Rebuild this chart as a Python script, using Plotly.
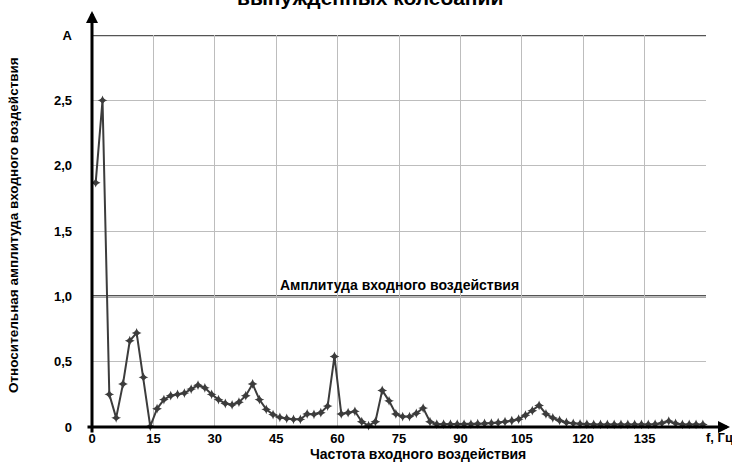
import plotly.graph_objects as go

# Frequencies (Hz) of measured points
freq = [0.9, 2.57, 4.23, 5.9, 7.57, 9.23, 10.9, 12.57, 14.23, 15.9,
        17.57, 19.23, 20.9, 22.57, 24.23, 25.9, 27.57, 29.23, 30.9, 32.57,
        34.23, 35.9, 37.57, 39.23, 40.9, 42.57, 44.23, 45.9, 47.57, 49.23,
        50.9, 52.57, 54.23, 55.9, 57.57, 59.23, 60.9, 62.57, 64.23, 65.9,
        67.57, 69.23, 70.9, 72.57, 74.23, 75.9, 77.57, 79.23, 80.9, 82.57,
        84.23, 85.9, 87.57, 89.23, 90.9, 92.57, 94.23, 95.9, 97.57, 99.23,
        100.9, 102.57, 104.23, 105.9, 107.57, 109.23, 110.9, 112.57, 114.23, 115.9,
        117.57, 119.23, 120.9, 122.57, 124.23, 125.9, 127.57, 129.23, 130.9, 132.57,
        134.23, 135.9, 137.57, 139.23, 140.9, 142.57, 144.23, 145.9, 147.57, 149.23]

# Relative amplitude
amp = [1.87, 2.50, 0.25, 0.07, 0.33, 0.66, 0.72, 0.38, 0.005, 0.14,
       0.21, 0.24, 0.25, 0.26, 0.29, 0.32, 0.30, 0.25, 0.21, 0.18,
       0.17, 0.19, 0.24, 0.33, 0.21, 0.135, 0.095, 0.074, 0.065, 0.059,
       0.059, 0.10, 0.097, 0.11, 0.16, 0.54, 0.10, 0.11, 0.12, 0.04,
       0.01, 0.04, 0.28, 0.20, 0.10, 0.08, 0.08, 0.105, 0.145, 0.04,
       0.022, 0.022, 0.022, 0.022, 0.022, 0.022, 0.025, 0.027, 0.03, 0.033,
       0.04, 0.048, 0.06, 0.09, 0.125, 0.165, 0.10, 0.07, 0.05, 0.035,
       0.028, 0.024, 0.022, 0.02, 0.02, 0.02, 0.02, 0.02, 0.02, 0.02,
       0.02, 0.02, 0.022, 0.03, 0.045, 0.028, 0.02, 0.02, 0.02, 0.02]

x_ticks = [0, 15, 30, 45, 60, 75, 90, 105, 120, 135, 150]
x_tick_text = ["0", "15", "30", "45", "60", "75", "90", "105", "120", "135", ""]
y_ticks = [0, 0.5, 1.0, 1.5, 2.0, 2.5, 3.0]
y_tick_text = ["0", "0,5", "1,0", "1,5", "2,0", "2,5", "A"]

FONT = "Liberation Sans, Arial, sans-serif"

fig = go.Figure()
fig.add_trace(go.Scatter(
    x=freq, y=amp, mode="lines+markers",
    line=dict(color="#3c3c3c", width=2),
    marker=dict(symbol="star-diamond", size=7, color="#3c3c3c"),
    cliponaxis=False, showlegend=False, hoverinfo="skip",
))

W, H = 732, 462
L, R, T, B = 92, 26, 35, 35
pw, ph = W - L - R, H - T - B

def px_to_paper_x(px):
    return (px - L) / pw

def px_to_paper_y(py):
    return (H - B - py) / ph

fig.update_layout(
    width=W, height=H,
    margin=dict(l=L, r=R, t=T, b=B, pad=0),
    paper_bgcolor="white", plot_bgcolor="white",
    font=dict(family=FONT, size=13, color="black"),
    xaxis=dict(range=[0, 150], tickvals=x_ticks, ticktext=x_tick_text,
               showgrid=True, gridcolor="#bdbdbd", gridwidth=1,
               zeroline=False, showline=False, ticks="",
               tickfont=dict(family=FONT, size=13, color="black", weight="bold"),
               ticklabelstandoff=2, fixedrange=True),
    yaxis=dict(range=[0, 3], tickvals=y_ticks, ticktext=y_tick_text,
               showgrid=True, gridcolor="#bdbdbd", gridwidth=1,
               zeroline=False, showline=False, ticks="",
               tickfont=dict(family=FONT, size=13, color="black", weight="bold"),
               ticklabelstandoff=19, fixedrange=True),
)

shapes = []
# dark reference lines at 1.0 and at A
for yv in (1.0, 3.0):
    shapes.append(dict(type="line", xref="x", yref="y", x0=0, x1=150, y0=yv, y1=yv,
                       line=dict(color="#555555", width=2.5), layer="below"))
fig.update_layout(shapes=shapes)

annotations = [
    # y axis arrow
    dict(xref="paper", yref="paper", x=0, y=px_to_paper_y(11), ax=0, ay=423,
         axref="pixel", ayref="pixel", text="", showarrow=True,
         arrowhead=2, arrowsize=0.8, arrowwidth=3, arrowcolor="black"),
    # x axis arrow
    dict(xref="paper", yref="paper", x=px_to_paper_x(730), y=0, ax=-644, ay=0,
         axref="pixel", ayref="pixel", text="", showarrow=True,
         arrowhead=2, arrowsize=0.8, arrowwidth=3, arrowcolor="black"),
    dict(xref="paper", yref="paper", x=px_to_paper_x(704), y=px_to_paper_y(437),
         text="<b>f, Гц</b>", showarrow=False, xanchor="left", yanchor="middle",
         font=dict(size=13, color="black")),
    dict(xref="paper", yref="paper", x=px_to_paper_x(418), y=px_to_paper_y(454),
         text="<b>Частота входного воздействия</b>", showarrow=False,
         xanchor="center", yanchor="middle", font=dict(size=14, color="black")),
    dict(xref="paper", yref="paper", x=px_to_paper_x(13), y=px_to_paper_y(225),
         text="<b>Относительная амплитуда входного воздействия</b>", showarrow=False,
         textangle=-90, xanchor="center", yanchor="middle",
         font=dict(size=13.5, color="black")),
    dict(xref="x", yref="paper", x=75, y=px_to_paper_y(285),
         text="<b>Амплитуда входного воздействия</b>", showarrow=False,
         xanchor="center", yanchor="middle", font=dict(size=14, color="black")),
    dict(xref="paper", yref="paper", x=px_to_paper_x(370), y=px_to_paper_y(-3),
         text="<b>вынужденных колебаний</b>", showarrow=False,
         xanchor="center", yanchor="middle", font=dict(size=21, color="black")),
]
fig.update_layout(annotations=annotations)

fig.write_html(
    "out.html",
    config={"displayModeBar": False},
    post_script="document.body.style.margin='0';document.body.style.padding='0';",
)
